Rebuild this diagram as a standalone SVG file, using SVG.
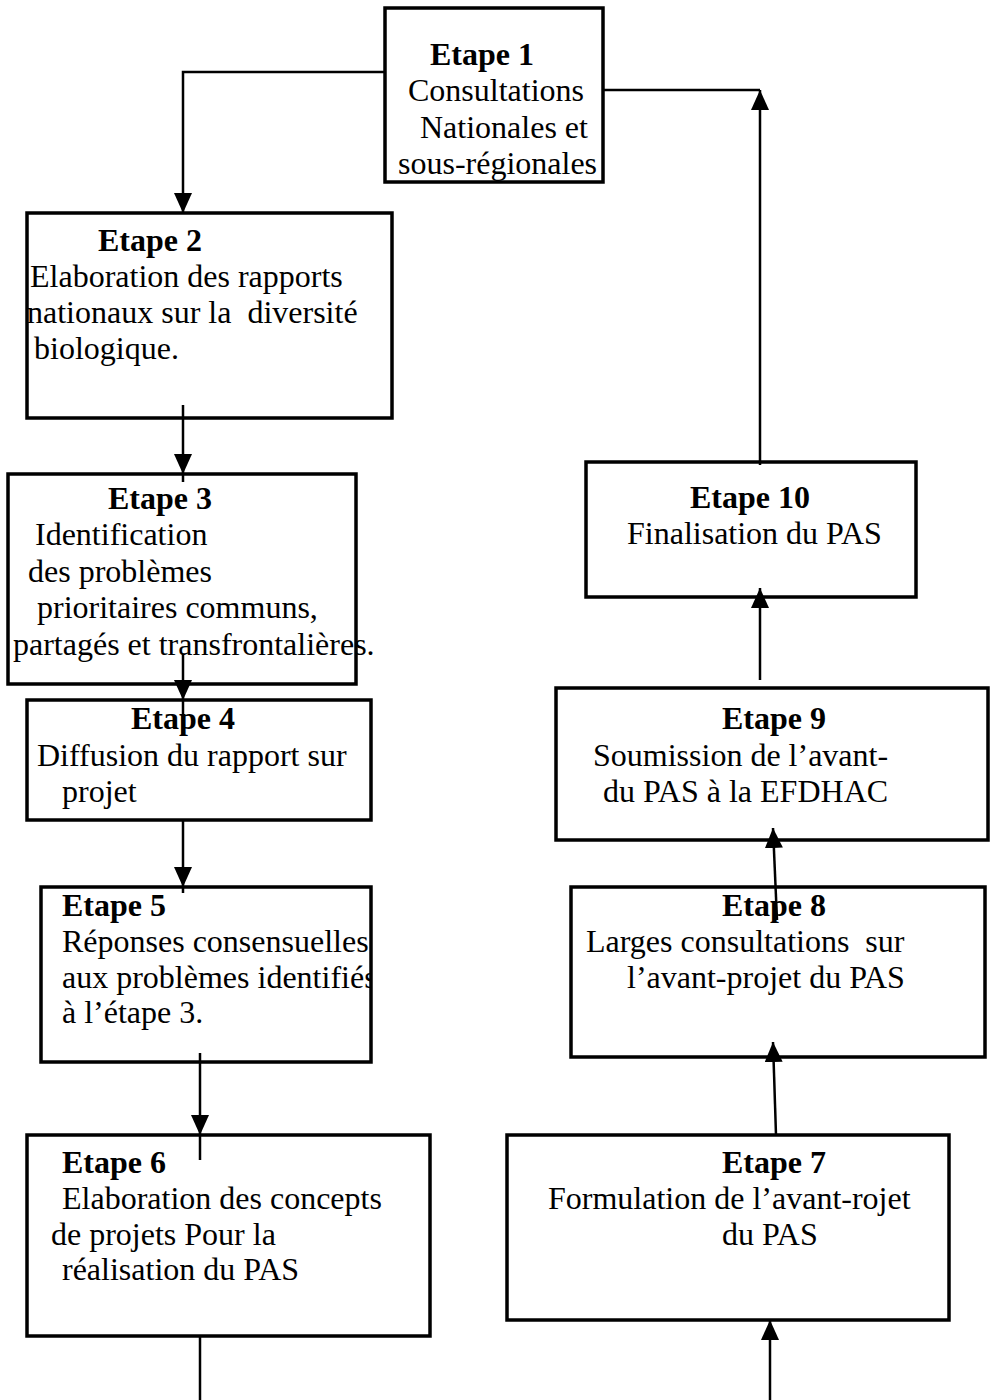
<svg xmlns="http://www.w3.org/2000/svg" width="991" height="1400" viewBox="0 0 991 1400" xml:space="preserve">
<style>
.box{fill:#fff;stroke:#000;stroke-width:3.5}
text{font-family:"Liberation Serif","Times New Roman",serif;font-size:32px;fill:#000;white-space:pre}
.b{font-weight:bold}
.con{fill:none;stroke:#000;stroke-width:2.5}
</style>
<defs>
<marker id="ah" markerUnits="userSpaceOnUse" markerWidth="20" markerHeight="18" viewBox="0 0 20 18" refX="20" refY="9" orient="auto">
<path d="M0,0 L20,9 L0,18 z" fill="#000"/>
</marker>
<clipPath id="clip5"><rect x="41" y="887" width="330" height="175"/></clipPath>
</defs>
<g id="node1">
<rect class="box" x="385" y="8" width="218" height="174"/>
<text class="b" x="430" y="65">Etape 1</text>
<text x="408" y="101">Consultations</text>
<text x="420" y="138">Nationales et</text>
<text x="398" y="174">sous-régionales</text>
</g>
<g id="node2">
<rect class="box" x="27" y="213" width="365" height="205"/>
<text class="b" x="98" y="251">Etape 2</text>
<text x="30" y="287">Elaboration des rapports</text>
<text x="27" y="323">nationaux sur la  diversité</text>
<text x="34" y="359">biologique.</text>
</g>
<g id="node3">
<rect class="box" x="8" y="474" width="348" height="210"/>
<text class="b" x="108" y="509">Etape 3</text>
<text x="35" y="545">Identification</text>
<text x="28" y="582">des problèmes</text>
<text x="37" y="618">prioritaires communs,</text>
<text x="13" y="655">partagés et transfrontalières.</text>
</g>
<g id="node4">
<rect class="box" x="27" y="700" width="344" height="120"/>
<text class="b" x="131" y="729">Etape 4</text>
<text x="37" y="766">Diffusion du rapport sur</text>
<text x="62" y="802">projet</text>
</g>
<g id="node5">
<rect class="box" x="41" y="887" width="330" height="175"/>
<g clip-path="url(#clip5)">
<text class="b" x="62" y="916">Etape 5</text>
<text x="62" y="952">Réponses consensuelles</text>
<text x="62" y="988">aux problèmes identifiés</text>
<text x="62" y="1023">à l’étape 3.</text>
</g>
</g>
<g id="node6">
<rect class="box" x="27" y="1135" width="403" height="201"/>
<text class="b" x="62" y="1173">Etape 6</text>
<text x="62" y="1209">Elaboration des concepts</text>
<text x="51" y="1245">de projets Pour la</text>
<text x="62" y="1280">réalisation du PAS</text>
</g>
<g id="node7">
<rect class="box" x="507" y="1135" width="442" height="185"/>
<text class="b" x="722" y="1173">Etape 7</text>
<text x="548" y="1209">Formulation de l’avant-rojet</text>
<text x="722" y="1245">du PAS</text>
</g>
<g id="node8">
<rect class="box" x="571" y="887" width="414" height="170"/>
<text class="b" x="722" y="916">Etape 8</text>
<text x="586" y="952">Larges consultations  sur</text>
<text x="627" y="988">l’avant-projet du PAS</text>
</g>
<g id="node9">
<rect class="box" x="556" y="688" width="432" height="152"/>
<text class="b" x="722" y="729">Etape 9</text>
<text x="593" y="766">Soumission de l’avant-</text>
<text x="603" y="802">du PAS à la EFDHAC</text>
</g>
<g id="node10">
<rect class="box" x="586" y="462" width="330" height="135"/>
<text class="b" x="690" y="508">Etape 10</text>
<text x="627" y="544">Finalisation du PAS</text>
</g>
<g id="connectors">
<path class="con" d="M385,72 H183 V213" marker-end="url(#ah)"/>
<path class="con" d="M603,90 H760"/>
<path class="con" d="M760,465 V90" marker-end="url(#ah)"/>
<path class="con" d="M183,405 V474" marker-end="url(#ah)"/>
<path class="con" d="M183,474 V482"/>
<path class="con" d="M183,655 V700" marker-end="url(#ah)"/>
<path class="con" d="M183,700 V735"/>
<path class="con" d="M183,820 V887" marker-end="url(#ah)"/>
<path class="con" d="M183,887 V893"/>
<path class="con" d="M200,1053 V1135" marker-end="url(#ah)"/>
<path class="con" d="M200,1135 V1160"/>
<path class="con" d="M200,1336 V1400"/>
<path class="con" d="M770,1400 V1320" marker-end="url(#ah)"/>
<path class="con" d="M776,1135 L773,1042" marker-end="url(#ah)"/>
<path class="con" d="M777,920 L773,828" marker-end="url(#ah)"/>
<path class="con" d="M760,680 V588" marker-end="url(#ah)"/>
</g>
</svg>
